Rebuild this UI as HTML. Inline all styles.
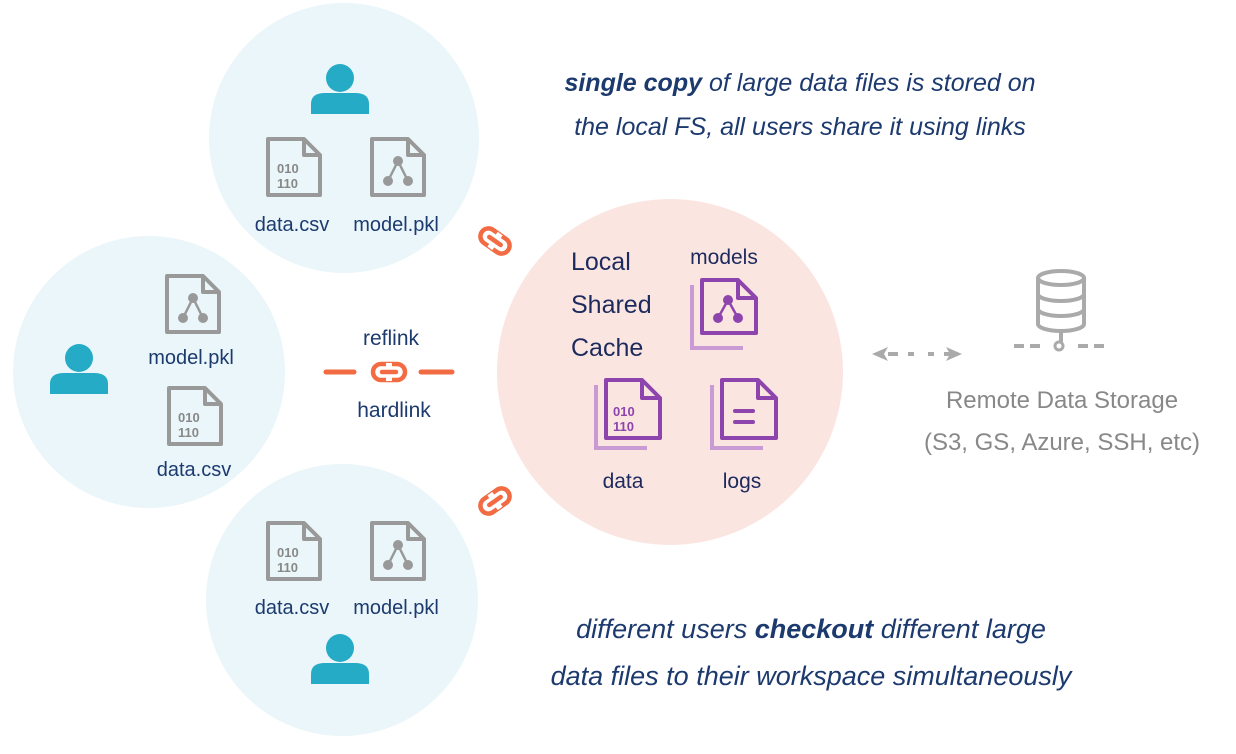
<!DOCTYPE html>
<html><head><meta charset="utf-8"><style>
body{margin:0;background:#fff;width:1236px;height:749px;overflow:hidden}
svg text{font-family:"Liberation Sans",sans-serif}
</style></head><body>
<svg width="1236" height="749" viewBox="0 0 1236 749" xmlns="http://www.w3.org/2000/svg">
<defs>
<g id="doc"><path d="M2 2 H38 L54 18 V58 H2 Z" fill="none" stroke-width="4" stroke-linejoin="round"/><path d="M38 2 V18 H54" fill="none" stroke-width="4" stroke-linejoin="round"/></g>
<g id="user"><circle cx="0" cy="-14" r="14" fill="#25abc6"/><path d="M-29 22 V12 Q-29 1 -15 1 H15 Q29 1 29 12 V22 Z" fill="#25abc6"/></g>
<g id="gdata"><use href="#doc" stroke="#999"/><text x="11" y="36" font-family="Liberation Mono" font-size="13" font-weight="bold" fill="#888">010</text><text x="11" y="51" font-family="Liberation Mono" font-size="13" font-weight="bold" fill="#888">110</text></g>
<g id="gmodel"><use href="#doc" stroke="#999"/><circle cx="28" cy="24" r="5" fill="#999"/><circle cx="18" cy="44" r="5" fill="#999"/><circle cx="38" cy="44" r="5" fill="#999"/><path d="M28 24 L18 44 M28 24 L38 44" stroke="#999" stroke-width="2.5"/></g>
<g id="link"><rect x="-16" y="-8" width="32" height="16" rx="8" fill="none" stroke="#f26b43" stroke-width="4.5"/><rect x="-3" y="-9" width="6" height="18" fill="#fff"/><line x1="-7" y1="0" x2="7" y2="0" stroke="#f26b43" stroke-width="4.5" stroke-linecap="round"/></g>
</defs>
<circle cx="344" cy="138" r="135" fill="#eaf6f9"/>
<circle cx="149" cy="372" r="136" fill="#eaf6f9"/>
<circle cx="342" cy="600" r="136" fill="#eaf6f9"/>
<circle cx="670" cy="372" r="173" fill="#fbe5e1"/>
<use href="#user" x="340" y="92"/>
<use href="#gdata" x="266" y="137"/>
<use href="#gmodel" x="370" y="137"/>
<text x="292" y="231" font-size="20" fill="#1c3a6e" text-anchor="middle">data.csv</text>
<text x="396" y="231" font-size="20" fill="#1c3a6e" text-anchor="middle">model.pkl</text>
<use href="#user" x="79" y="372"/>
<use href="#gmodel" x="165" y="274"/>
<text x="191" y="364" font-size="20" fill="#1c3a6e" text-anchor="middle">model.pkl</text>
<use href="#gdata" x="167" y="386"/>
<text x="194" y="476" font-size="20" fill="#1c3a6e" text-anchor="middle">data.csv</text>
<use href="#gdata" x="266" y="521"/>
<use href="#gmodel" x="370" y="521"/>
<text x="292" y="614" font-size="20" fill="#1c3a6e" text-anchor="middle">data.csv</text>
<text x="396" y="614" font-size="20" fill="#1c3a6e" text-anchor="middle">model.pkl</text>
<use href="#user" x="340" y="662"/>
<g transform="translate(495,241) rotate(35)"><use href="#link"/></g>
<g transform="translate(495,501) rotate(-35)"><use href="#link"/></g>
<use href="#link" x="389" y="372"/>
<line x1="326" y1="372" x2="354" y2="372" stroke="#f26b43" stroke-width="5" stroke-linecap="round"/>
<line x1="421" y1="372" x2="452" y2="372" stroke="#f26b43" stroke-width="5" stroke-linecap="round"/>
<text x="391" y="345" font-size="21" fill="#1c3a6e" text-anchor="middle">reflink</text>
<text x="394" y="417" font-size="21" fill="#1c3a6e" text-anchor="middle">hardlink</text>
<text x="571" y="270" font-size="25" fill="#1c2a5e">Local</text>
<text x="571" y="313" font-size="25" fill="#1c2a5e">Shared</text>
<text x="571" y="356" font-size="25" fill="#1c2a5e">Cache</text>
<text x="724" y="264" font-size="21" fill="#1c2a5e" text-anchor="middle">models</text>
<g transform="translate(690,278)"><path d="M2 7 V70 H53" fill="none" stroke="#c99ad4" stroke-width="4"/><g transform="translate(10,0)"><path d="M2 2 H38 L56 20 V55 H2 Z M38 2 V20 H56" fill="none" stroke="#8e44ad" stroke-width="4" stroke-linejoin="round"/><circle cx="28" cy="22" r="5" fill="#8e44ad"/><circle cx="18" cy="40" r="5" fill="#8e44ad"/><circle cx="38" cy="40" r="5" fill="#8e44ad"/><path d="M28 22 L18 40 M28 22 L38 40" stroke="#8e44ad" stroke-width="2.5"/></g></g>
<g transform="translate(594,378)"><path d="M2 7 V70 H53" fill="none" stroke="#c99ad4" stroke-width="4"/><g transform="translate(10,0)"><path d="M2 2 H38 L56 20 V60 H2 Z M38 2 V20 H56" fill="none" stroke="#8e44ad" stroke-width="4" stroke-linejoin="round"/><text x="9" y="38" font-family="Liberation Mono" font-size="13" font-weight="bold" fill="#8e44ad">010</text><text x="9" y="53" font-family="Liberation Mono" font-size="13" font-weight="bold" fill="#8e44ad">110</text></g></g>
<g transform="translate(710,378)"><path d="M2 7 V70 H53" fill="none" stroke="#c99ad4" stroke-width="4"/><g transform="translate(10,0)"><path d="M2 2 H38 L56 20 V60 H2 Z M38 2 V20 H56" fill="none" stroke="#8e44ad" stroke-width="4" stroke-linejoin="round"/><line x1="15" y1="33" x2="33" y2="33" stroke="#8e44ad" stroke-width="4" stroke-linecap="round"/><line x1="15" y1="44" x2="33" y2="44" stroke="#8e44ad" stroke-width="4" stroke-linecap="round"/></g></g>
<text x="623" y="488" font-size="21" fill="#1c2a5e" text-anchor="middle">data</text>
<text x="742" y="488" font-size="21" fill="#1c2a5e" text-anchor="middle">logs</text>
<g stroke="#aaa" stroke-width="4" fill="none"><path d="M1038 278 V324 A23 7 0 0 0 1084 324 V278"/><ellipse cx="1061" cy="278" rx="23" ry="7"/><path d="M1038 294 A23 7 0 0 0 1084 294 M1038 309 A23 7 0 0 0 1084 309"/><line x1="1061" y1="331" x2="1061" y2="342"/><circle cx="1059" cy="346" r="4" stroke-width="3"/></g>
<g stroke="#aaa" stroke-width="4"><line x1="1014" y1="346" x2="1024" y2="346"/><line x1="1030" y1="346" x2="1040" y2="346"/><line x1="1078" y1="346" x2="1088" y2="346"/><line x1="1094" y1="346" x2="1104" y2="346"/><line x1="888" y1="354" x2="898" y2="354"/><line x1="908" y1="354" x2="914" y2="354"/><line x1="928" y1="354" x2="934" y2="354"/><line x1="944" y1="354" x2="954" y2="354"/></g>
<path d="M872 354 L888 347 L884 354 L888 361 Z M962 354 L946 347 L950 354 L946 361 Z" fill="#aaa"/>
<text x="1062" y="408" font-size="24" fill="#888" text-anchor="middle">Remote Data Storage</text>
<text x="1062" y="450" font-size="24" fill="#888" text-anchor="middle">(S3, GS, Azure, SSH, etc)</text>
<text x="800" y="91" font-size="25" font-style="italic" fill="#1c3a6e" text-anchor="middle"><tspan font-weight="bold">single copy</tspan> of large data files is stored on</text>
<text x="800" y="135" font-size="25" font-style="italic" fill="#1c3a6e" text-anchor="middle">the local FS, all users share it using links</text>
<text x="811" y="638" font-size="27" font-style="italic" fill="#1c3a6e" text-anchor="middle">different users <tspan font-weight="bold">checkout</tspan> different large</text>
<text x="811" y="685" font-size="27" font-style="italic" fill="#1c3a6e" text-anchor="middle">data files to their workspace simultaneously</text>
</svg>
</body></html>
